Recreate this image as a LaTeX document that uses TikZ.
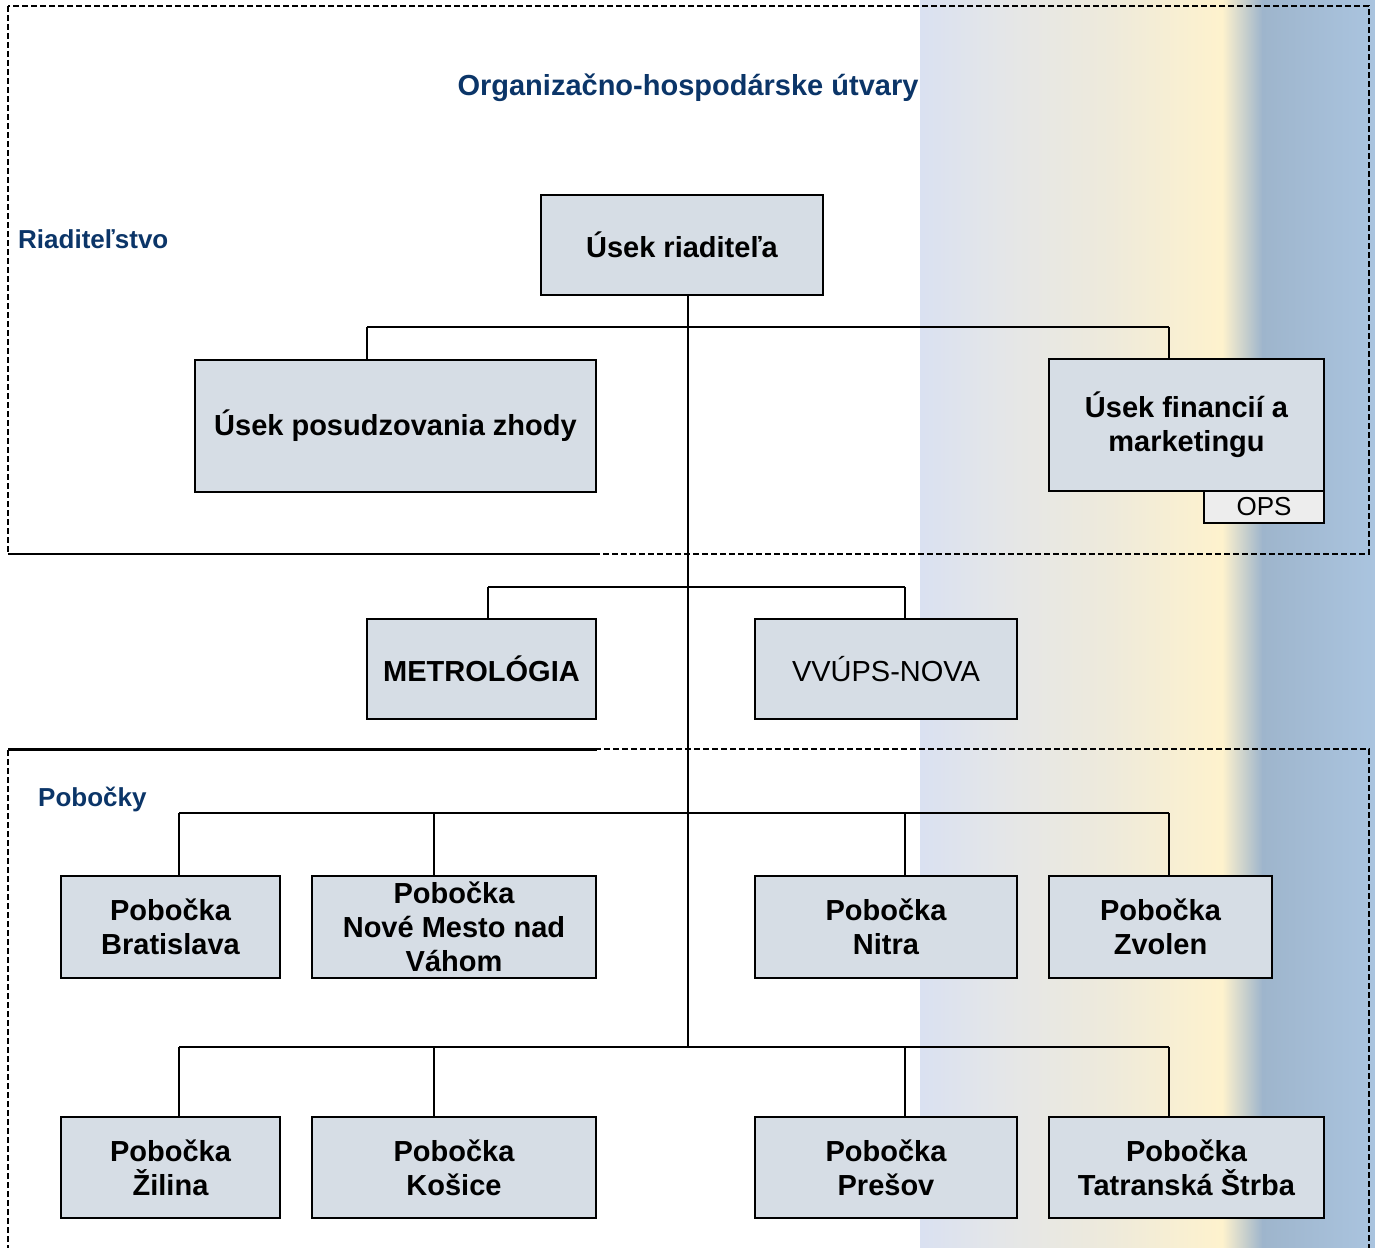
\documentclass[tikz,border=0pt]{standalone}
\usepackage{fontspec}
\setmainfont{Liberation Sans}
\definecolor{boxfill}{HTML}{D6DDE5}
\definecolor{opsfill}{HTML}{EDEDED}
\definecolor{titleblue}{HTML}{0B3568}
\definecolor{gA}{HTML}{DAE1F1}
\definecolor{gB}{HTML}{E4E6E8}
\definecolor{gC}{HTML}{EEEADB}
\definecolor{gD}{HTML}{FEF2CD}
\definecolor{gE}{HTML}{9EB5CC}
\definecolor{gF}{HTML}{AAC4DF}
\tikzset{
  box/.style={draw=black, line width=2pt, fill=boxfill, inner sep=0pt, align=center,
    font=\fontsize{29}{34}\selectfont\bfseries},
  opsbox/.style={draw=black, line width=2pt, fill=opsfill, inner sep=0pt,
    font=\fontsize{26}{30}\selectfont},
  conn/.style={draw=black, line width=2pt},
  dashline/.style={draw=black, line width=1.8pt, dash pattern=on 6pt off 3pt},
  sectlabel/.style={text=titleblue, font=\fontsize{26}{30}\selectfont\bfseries, inner sep=0pt, anchor=west},
}
\begin{document}
\begin{tikzpicture}[x=1pt,y=-1pt]
\useasboundingbox (0,0) rectangle (1375,1247);
% gradient background
\shade[left color=gA, right color=gB] (920,0) rectangle (1000.5,1247);
\shade[left color=gB, right color=gC] (1000,0) rectangle (1110.5,1247);
\shade[left color=gC, right color=gD] (1110,0) rectangle (1222.5,1247);
\shade[left color=gD, right color=gE] (1222,0) rectangle (1262.5,1247);
\shade[left color=gE, right color=gF] (1262,0) rectangle (1375,1247);
% section borders
\draw[dashline] (8,6) rectangle (1369,554);
\draw[conn] (8,554) -- (597,554);
\draw[dashline, line width=2.2pt] (8,1260) -- (8,749) -- (1369,749) -- (1369,1260);
\draw[black, line width=3pt] (8,749) -- (597,749);
% texts
\node[text=titleblue, font=\fontsize{29}{34}\selectfont\bfseries, inner sep=0pt] (title) at (688,88) {Organizačno-hospodárske útvary};
\node[sectlabel] (riad) at (18,239) {Riaditeľstvo};
\node[sectlabel] (pob) at (38,799) {Pobočky};
% connector coordinates
\coordinate (trunk) at (688,1047);
\coordinate (b1l) at (367,327); \coordinate (b1r) at (1169,327);
\coordinate (b2l) at (488,587); \coordinate (b2r) at (905,587);
\coordinate (b3a) at (179,813); \coordinate (b3b) at (434,813);
\coordinate (b3c) at (905,813); \coordinate (b3d) at (1169,813);
\coordinate (b4a) at (179,1047); \coordinate (b4b) at (434,1047);
\coordinate (b4c) at (905,1047); \coordinate (b4d) at (1169,1047);
% boxes
\node[box, minimum width=282pt, minimum height=100pt] (dir) at (682,245) {Úsek riaditeľa};
\node[box, minimum width=401pt, minimum height=132pt] (pos) at (395.5,426) {Úsek posudzovania zhody};
\node[box, minimum width=275pt, minimum height=132pt] (fin) at (1186.5,425) {Úsek financií a\\marketingu};
\node[opsbox, minimum width=120pt, minimum height=32pt] (ops) at (1264,507) {OPS};
\node[box, minimum width=229pt, minimum height=100pt] (met) at (481.5,669) {METROLÓGIA};
\node[box, minimum width=262pt, minimum height=100pt, font=\fontsize{29}{34}\selectfont] (vvu) at (886,669) {VVÚPS-NOVA};
\node[box, minimum width=219pt, minimum height=102pt] (bra) at (170.5,927) {Pobočka\\Bratislava};
\node[box, minimum width=284pt, minimum height=102pt] (nmv) at (454,927) {Pobočka\\Nové Mesto nad\\Váhom};
\node[box, minimum width=262pt, minimum height=102pt] (nit) at (886,927) {Pobočka\\Nitra};
\node[box, minimum width=223pt, minimum height=102pt] (zvo) at (1160.5,927) {Pobočka\\Zvolen};
\node[box, minimum width=219pt, minimum height=101pt] (zil) at (170.5,1167.5) {Pobočka\\Žilina};
\node[box, minimum width=284pt, minimum height=101pt] (kos) at (454,1167.5) {Pobočka\\Košice};
\node[box, minimum width=262pt, minimum height=101pt] (pre) at (886,1167.5) {Pobočka\\Prešov};
\node[box, minimum width=275pt, minimum height=101pt] (tat) at (1186.5,1167.5) {Pobočka\\Tatranská Štrba};
% connectors
\draw[conn] (dir.south -| trunk) -- (trunk);
\draw[conn] (b1l) -- (b1r);
\draw[conn] (b1l) -- (b1l |- pos.north);
\draw[conn] (b1r) -- (b1r |- fin.north);
\draw[conn] (b2l) -- (b2r);
\draw[conn] (b2l) -- (b2l |- met.north);
\draw[conn] (b2r) -- (b2r |- vvu.north);
\draw[conn] (b3a) -- (b3d);
\draw[conn] (b3a) -- (b3a |- bra.north);
\draw[conn] (b3b) -- (b3b |- nmv.north);
\draw[conn] (b3c) -- (b3c |- nit.north);
\draw[conn] (b3d) -- (b3d |- zvo.north);
\draw[conn] (b4a) -- (b4d);
\draw[conn] (b4a) -- (b4a |- zil.north);
\draw[conn] (b4b) -- (b4b |- kos.north);
\draw[conn] (b4c) -- (b4c |- pre.north);
\draw[conn] (b4d) -- (b4d |- tat.north);
\end{tikzpicture}
\end{document}
